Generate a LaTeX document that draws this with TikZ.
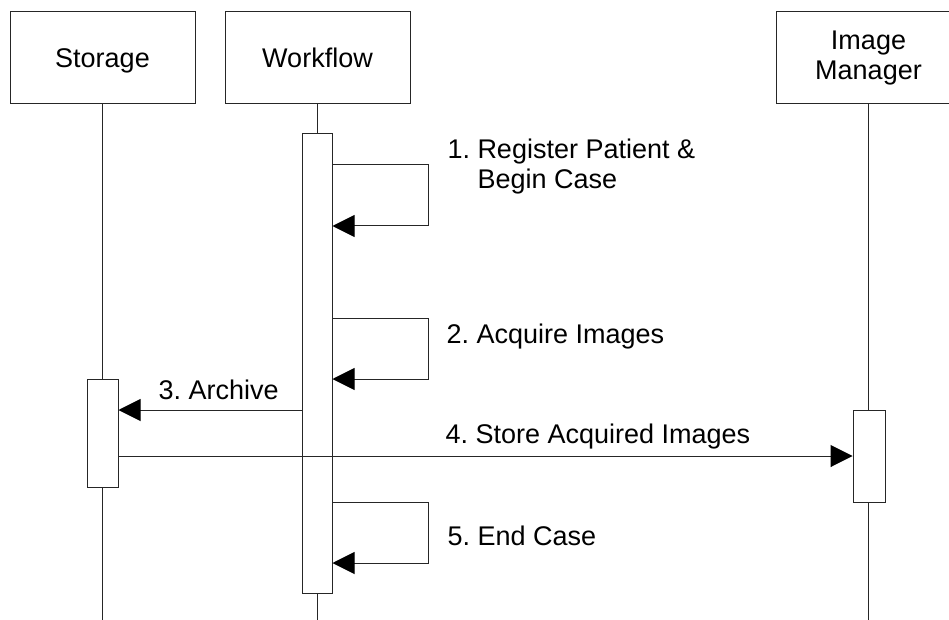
\documentclass[tikz,border=0pt]{standalone}
\usepackage{fontspec}
\setmainfont{Liberation Sans}
\frenchspacing
\usetikzlibrary{arrows.meta}
\begin{document}
\begin{tikzpicture}[x=1pt,y=-1pt,line width=1pt,
  txt/.style={font=\fontsize{27}{30}\selectfont},
  actor/.style={txt,draw=black!85,fill=white,minimum width=185pt,minimum height=92pt,inner sep=0pt,align=center},
  oneline/.style={text height=19.5pt,text depth=0pt},
  act/.style={draw=black!85,fill=white,minimum width=30pt,inner sep=0pt},
  lbl/.style={txt,inner sep=0pt,anchor=base west,align=left},
  life/.style={draw=black!85},
  msg/.style={draw=black!85,-{Triangle[length=22pt,width=22pt,color=black,fill=black]}}]
\useasboundingbox (0,0) rectangle (949,620);
\clip (0,0) rectangle (949,620);
% actors
\node[actor,oneline] (st) at (102.5,58) {Storage};
\node[actor,oneline] (wf) at (317.5,58) {Workflow};
\node[actor] (im) at (868.5,58) {Image\\Manager};
% lifeline ends
\coordinate (stend) at (102.5,620);
\coordinate (wfend) at (317.5,620);
\coordinate (imend) at (868.5,620);
\draw[life] (st.south) -- (stend);
\draw[life] (wf.south) -- (wfend);
\draw[life] (im.south) -- (imend);
% activations
\node[act,minimum height=459pt] (wfact) at (317,363.5) {};
\node[act,minimum height=108pt,minimum width=31pt] (stact) at (102.5,433) {};
\node[act,minimum height=92pt,minimum width=32pt] (imact) at (869,456) {};
% levels
\coordinate (y1a) at (0,165); \coordinate (y1b) at (0,226);
\coordinate (y2a) at (0,318); \coordinate (y2b) at (0,379);
\coordinate (y3) at (0,410);
\coordinate (y4) at (0,456);
\coordinate (y5a) at (0,502); \coordinate (y5b) at (0,563);
% messages
\draw[msg] (wfact.east |- y1a) -- ++(96,0) |- (wfact.east |- y1b);
\draw[msg] (wfact.east |- y2a) -- ++(96,0) |- (wfact.east |- y2b);
\draw[msg] (wfact.west |- y3) -- (stact.east |- y3);
\draw[msg] (stact.east |- y4) -- (imact.west |- y4);
\draw[msg] (wfact.east |- y5a) -- ++(96,0) |- (wfact.east |- y5b);
% labels
\node[lbl] (l1) at (447,189) {1. Register Patient \&\\\hspace*{30pt}Begin Case};
\node[lbl] (l2) at (446,343) {2. Acquire Images};
\node[lbl] (l3) at (158,399) {3. Archive};
\node[lbl] (l4) at (445,443) {4. Store Acquired Images};
\node[lbl] (l5) at (447,545) {5. End Case};
\end{tikzpicture}
\end{document}
